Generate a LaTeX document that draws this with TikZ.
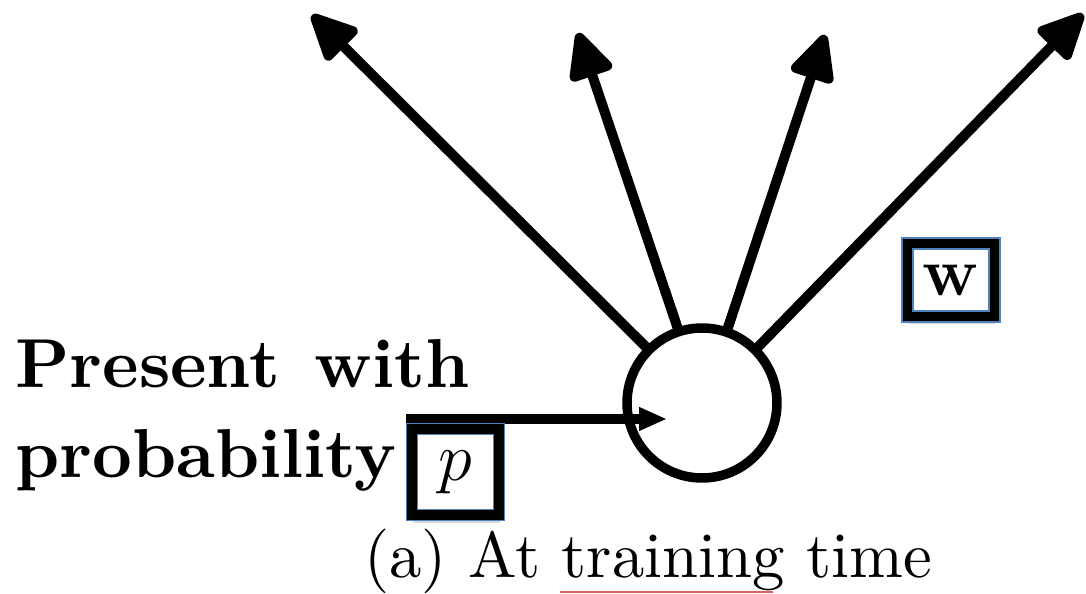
\RequirePackage{fix-cm}
\documentclass[tikz,border=0pt]{standalone}
\usetikzlibrary{arrows.meta, shadows}
\definecolor{boxBlue}{HTML}{4F81BD}
\definecolor{markRed}{HTML}{D9605E}
\tikzset{
  arrowOut/.style={-{Triangle[length=1.05cm, width=0.95cm, round]}, line width=0.2cm,
                   line cap=round},
  arrowIn/.style={-{Triangle[length=0.56cm, width=0.44cm]}, line width=0.19cm},
  unitC/.style={circle, draw, line width=0.19cm, minimum size=3cm, inner sep=0pt},
  boxVar/.style={rectangle, draw=boxBlue, line width=0.03cm, double=black,
                 double distance=0.19cm, fill=white, inner sep=0pt,
                 font=\fontsize{39}{47}\selectfont,
                 drop shadow={shadow xshift=0.02cm, shadow yshift=-0.16cm,
                              opacity=0.25, fill=black!60}},
  labelB/.style={font=\normalsize\bfseries, scale=3.94, anchor=base west, inner sep=0pt},
  capt/.style={font=\normalsize, scale=3.68, anchor=base west, inner sep=0pt},
}
\begin{document}
\begin{tikzpicture}[x=0.02cm, y=0.02cm]
    \useasboundingbox (0,0) rectangle (1086,593);
    \node[unitC] (c) at (702,190) {};
    \coordinate (t1) at (312,578);
    \coordinate (t2) at (578,560);
    \coordinate (t3) at (825,558);
    \coordinate (t4) at (1083,579);
    \draw[arrowOut] (c.135)   -- (t1);
    \draw[arrowOut] (c.108.5) -- (t2);
    \draw[arrowOut] (c.71.5)  -- (t3);
    \draw[arrowOut] (c.45.6)  -- (t4);
    \coordinate (src) at (406,174);
    \coordinate (tipIn) at (667,174);
    \draw[arrowIn] (src) -- (tipIn);
    \node[boxVar, minimum width=1.74cm, minimum height=1.46cm] (w) at (951,313) {$\mathbf{w}$};
    \node[boxVar, minimum width=1.74cm, minimum height=1.72cm] (p) at (455.5,121) {$p$};
    \node[labelB] (present) at (14,206) {Present\hskip0.5em with};
    \node[labelB] (prob) at (14,116) {probability};
    \node[capt] (cap) at (363,16) {(a) At training time};
    \draw[markRed, line width=0.04cm] (560,1) -- (773,1);
  \end{tikzpicture}
\end{document}
